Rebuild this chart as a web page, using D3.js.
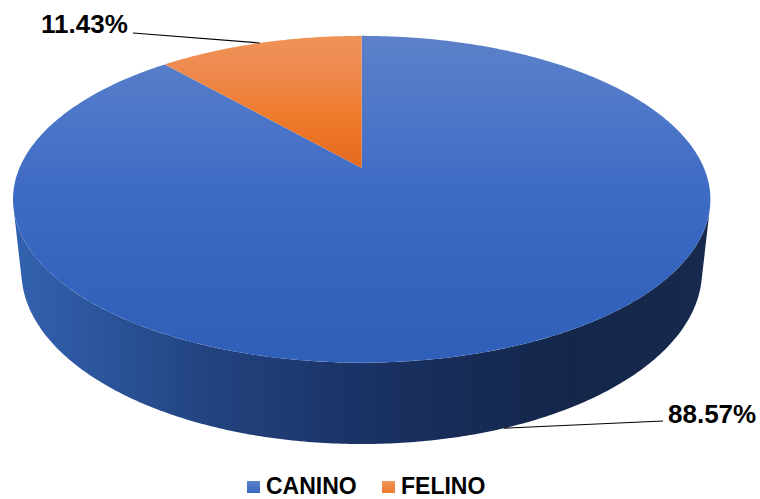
<!DOCTYPE html>
<html>
<head>
<meta charset="utf-8">
<script src="https://cdn.jsdelivr.net/npm/d3@7"></script>
<style>
  html, body { margin: 0; padding: 0; background: #ffffff; }
  svg { display: block; }
  text { font-family: "Liberation Sans", Arial, sans-serif; font-weight: bold; fill: #000; }
</style>
</head>
<body>
<svg id="chart" width="760" height="499"></svg>
<script>
// Share of cases by species
const categories = ["CANINO", "FELINO"];
const values = [88.57, 11.43];
const valueLabels = ["88.57%", "11.43%"];

const W = 760, H = 499;
const svg = d3.select("#chart");
const defs = svg.append("defs");

// Perspective camera for the 3D disc (unit radius, top face at y = 0)
const cam = {
  cx: 361.7, cy: 168,      // screen position of the disc centre
  F: 1588,                 // focal length in px
  tilt: Math.asin(0.46),   // view elevation
  D: 4.64,                 // camera distance in radii
  h: 0.238                 // disc thickness in radii
};
const sA = Math.sin(cam.tilt), cA = Math.cos(cam.tilt);

// angle: clockwise from 12 o'clock (d3.pie convention); y: 0 on top face, -h on bottom face
function project(r, angle, y) {
  const X = r * Math.sin(angle);
  const Y = r * Math.cos(angle) * sA + y * cA;
  const depth = cam.D + r * Math.cos(angle) * cA - y * sA;
  return [cam.cx + cam.F * X / depth, cam.cy - cam.F * Y / depth];
}

// Visible band of the cylinder wall lies between the two silhouette generators
const silhouette = Math.acos(-1 / (cam.D * cA));
const sideFrom = silhouette, sideTo = 2 * Math.PI - silhouette;

const pie = d3.pie().sort(null).value(d => d.value).startAngle(0).endAngle(2 * Math.PI);
const arcs = pie(categories.map((c, i) => ({ name: c, value: values[i], label: valueLabels[i] })));

function rim(a0, a1, y, steps) {
  const n = steps || Math.max(8, Math.ceil(Math.abs(a1 - a0) / 0.01));
  return d3.range(n + 1).map(k => project(1, a0 + (a1 - a0) * k / n, y));
}
const line = d3.line();

// Gradients
function vGrad(id, stops, y1, y2) {
  const g = defs.append("linearGradient").attr("id", id)
    .attr("gradientUnits", "userSpaceOnUse")
    .attr("x1", 0).attr("x2", 0).attr("y1", y1).attr("y2", y2);
  stops.forEach(([o, c]) => g.append("stop").attr("offset", o).attr("stop-color", c));
}
function hGrad(id, stops, x1, x2) {
  const g = defs.append("linearGradient").attr("id", id)
    .attr("gradientUnits", "userSpaceOnUse")
    .attr("x1", x1).attr("x2", x2).attr("y1", 0).attr("y2", 0);
  stops.forEach(([o, c]) => g.append("stop").attr("offset", o).attr("stop-color", c));
}
const topY = project(1, 0, 0)[1], botY = project(1, Math.PI, 0)[1];
vGrad("topBlue", [[0, "#5d81ca"], [0.2, "#4f78c8"], [0.45, "#3f6cc5"], [0.7, "#3565bf"], [1, "#2f5fb8"]], topY, botY);
vGrad("topOrange", [[0, "#f09357"], [0.1, "#ee8a4f"], [0.25, "#ef7a2c"], [0.42, "#e3681d"], [1, "#d05c16"]], topY, botY);
hGrad("sideBlue", [[0, "#3262b0"], [0.12, "#2c559d"], [0.27, "#234481"], [0.48, "#1b3468"], [0.63, "#172c57"], [0.8, "#14274a"], [1, "#17294c"]], 12, 711);
hGrad("sideOrange", [[0, "#c0581a"], [1, "#6a300c"]], 12, 711);
vGrad("keyBlue", [[0, "#5d81ca"], [1, "#3766c0"]], 481, 493);
vGrad("keyOrange", [[0, "#f29559"], [1, "#ec7a2e"]], 481, 493);

const topFill = ["url(#topBlue)", "url(#topOrange)"];
const sideFill = ["url(#sideBlue)", "url(#sideOrange)"];
const keyFill = ["url(#keyBlue)", "url(#keyOrange)"];

// Cylinder wall for each slice, clipped to the visible band
const gSide = svg.append("g");
arcs.forEach((a, i) => {
  const lo = Math.max(a.startAngle, sideFrom), hi = Math.min(a.endAngle, sideTo);
  if (hi <= lo) return;
  const pts = rim(lo, hi, 0).concat(rim(hi, lo, -cam.h));
  gSide.append("path").attr("d", line(pts) + "Z").attr("fill", sideFill[i]);
});

// Top face sectors
const gTop = svg.append("g");
arcs.forEach((a, i) => {
  const pts = [project(0, 0, 0)].concat(rim(a.startAngle, a.endAngle, 0));
  gTop.append("path").attr("d", line(pts) + "Z").attr("fill", topFill[i]);
});

// Value labels with leader lines
const gLab = svg.append("g");
// CANINO: anchored on the lower rim of the wall, label to the lower right
{
  const a = arcs[0];
  const mid = (a.startAngle + a.endAngle) / 2;
  const p = project(1, mid, -cam.h);
  gLab.append("line").attr("x1", p[0]).attr("y1", p[1]).attr("x2", 663).attr("y2", 421)
    .attr("stroke", "#000").attr("stroke-width", 1.2);
  gLab.append("text").attr("x", 668).attr("y", 423).attr("font-size", 26).text(a.data.label);
}
// FELINO: anchored on the back rim of the top face, label to the upper left
{
  const a = arcs[1];
  const mid = (a.startAngle + a.endAngle) / 2;
  const p = project(1, mid, 0);
  gLab.append("line").attr("x1", p[0]).attr("y1", p[1]).attr("x2", 133).attr("y2", 33)
    .attr("stroke", "#000").attr("stroke-width", 1.2);
  gLab.append("text").attr("x", 41).attr("y", 33).attr("font-size", 26).text(a.data.label);
}

// Legend
const legendX = [247, 382];
const gLeg = svg.append("g");
categories.forEach((c, i) => {
  gLeg.append("rect").attr("x", legendX[i]).attr("y", 481).attr("width", 13).attr("height", 12)
    .attr("fill", keyFill[i]);
  gLeg.append("text").attr("x", legendX[i] + 19).attr("y", 494).attr("font-size", 23).text(c);
});
</script>
</body>
</html>
